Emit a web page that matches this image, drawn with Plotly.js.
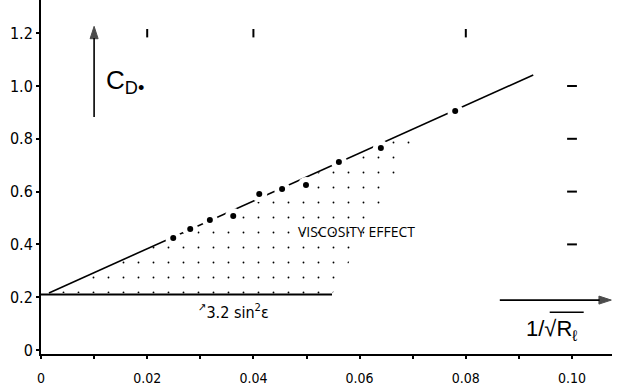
<!DOCTYPE html>
<html>
<head>
<meta charset="utf-8">
<script src="https://cdn.plot.ly/plotly-3.0.1.min.js"></script>
<style>html,body{margin:0;padding:0;background:#fff;}#chart{width:625px;height:390px;}</style>
</head>
<body>
<div id="chart"></div>
<script>
// measured points: 1/sqrt(R_l) vs C_D0
const ptX = [0.0249, 0.0281, 0.0318, 0.0362, 0.0411, 0.0454, 0.0499, 0.0561, 0.0640, 0.0780];
const ptY = [0.424, 0.458, 0.492, 0.508, 0.591, 0.610, 0.625, 0.712, 0.765, 0.905];
// fitted straight line
const fitX = [0.0015, 0.0927];
const fitY = [0.216, 1.042];
// 3.2 sin^2(eps) level
const baseX = [0, 0.0548];
const baseY = [0.21, 0.21];
// stippled "viscosity effect" region
const stipX = [0.0015, 0.0548, 0.0714, 0.0015];
const stipY = [0.216, 0.21, 0.845, 0.216];
// grid reference marks
const topMarkX = [0.02, 0.04, 0.08];
const topMarkY = [1.2, 1.2, 1.2];
const rightMarkX = [0.10, 0.10, 0.10, 0.10];
const rightMarkY = [0.4, 0.6, 0.8, 1.0];
// axis direction arrows
const yArrowX = [0.01, 0.01];
const yArrowY = [0.883, 1.226];
const xArrowX = [0.0864, 0.1074];
const xArrowY = [0.189, 0.189];
// axis ticks
const xTickVals = [0, 0.02, 0.04, 0.06, 0.08, 0.10];
const xTickText = ['0', '0.02', '0.04', '0.06', '0.08', '0.10'];
const xMinorVals = [0.01, 0.03, 0.05, 0.07, 0.09];
const yTickVals = [0, 0.2, 0.4, 0.6, 0.8, 1.0, 1.2];
const yTickText = ['0', '0.2', '0.4', '0.6', '0.8', '1.0', '1.2'];

const FONT = 'Liberation Sans Narrow, DejaVu Sans Condensed, sans-serif';

const traces = [
  { x: stipX, y: stipY, mode: 'lines', fill: 'toself',
    fillcolor: 'rgba(255,255,255,0)', line: { width: 0, color: 'rgba(0,0,0,0)' },
    fillpattern: { shape: '.', size: 15, solidity: 0.012, fgcolor: '#000', bgcolor: 'rgba(255,255,255,0)' },
    hoverinfo: 'skip' },
  { x: fitX, y: fitY, mode: 'lines', line: { color: '#000', width: 1.6 }, hoverinfo: 'skip' },
  { x: baseX, y: baseY, mode: 'lines', line: { color: '#000', width: 2 }, hoverinfo: 'skip' },
  { x: ptX, y: ptY, mode: 'markers', marker: { color: '#fff', size: 16 }, hoverinfo: 'skip' },
  { x: ptX, y: ptY, mode: 'markers', marker: { color: '#000', size: 6 } },
  { x: topMarkX, y: topMarkY, mode: 'markers',
    marker: { symbol: 'line-ns', size: 6, line: { color: '#000', width: 2 } }, hoverinfo: 'skip' },
  { x: rightMarkX, y: rightMarkY, mode: 'markers',
    marker: { symbol: 'line-ew', size: 7, line: { color: '#000', width: 2 } }, hoverinfo: 'skip' },
  { x: yArrowX, y: yArrowY, mode: 'lines+markers', cliponaxis: false,
    line: { color: '#000', width: 1.6 },
    marker: { symbol: 'arrow', angleref: 'previous', size: [0, 13], color: '#000', line: { color: '#000', width: 1 } }, hoverinfo: 'skip' },
  { x: xArrowX, y: xArrowY, mode: 'lines+markers', cliponaxis: false,
    line: { color: '#000', width: 1.6 },
    marker: { symbol: 'arrow', angleref: 'previous', size: [0, 13], color: '#000', line: { color: '#000', width: 1 } }, hoverinfo: 'skip' }
];

const layout = {
  width: 625, height: 390,
  margin: { l: 41, r: 13, t: 0, b: 36 },
  paper_bgcolor: '#fff', plot_bgcolor: '#fff',
  showlegend: false,
  xaxis: {
    range: [0, 0.10753], showgrid: false, zeroline: false,
    showline: true, linecolor: '#000', linewidth: 2,
    tickmode: 'array', tickvals: xTickVals, ticktext: xTickText,
    ticks: 'outside', ticklen: 3, tickwidth: 2, tickcolor: '#000',
    minor: { tickmode: 'array', tickvals: xMinorVals, ticks: 'outside', ticklen: 3, tickwidth: 2, tickcolor: '#000', showgrid: false },
    ticklabelstandoff: 7,
    tickfont: { family: FONT, size: 14, color: '#000' }
  },
  yaxis: {
    range: [-0.0152, 1.3258], showgrid: false, zeroline: false,
    showline: true, linecolor: '#000', linewidth: 2,
    tickmode: 'array', tickvals: yTickVals, ticktext: yTickText,
    ticks: 'outside', ticklen: 3, tickwidth: 2, tickcolor: '#000',
    tickfont: { family: FONT, size: 16, color: '#000' }
  },
  shapes: [
    { type: 'line', xref: 'x', yref: 'y', x0: 0.0958, x1: 0.1022, y0: 0.143, y1: 0.143,
      line: { color: '#000', width: 1.5 } }
  ],
  annotations: [
    { x: 0.0158, y: 1.018, xref: 'x', yref: 'y', showarrow: false,
      text: 'C<sub>D•</sub>', font: { family: 'Liberation Sans, sans-serif', size: 26, color: '#000' } },
    { x: 0.0595, y: 0.447, xref: 'x', yref: 'y', showarrow: false,
      text: 'VISCOSITY EFFECT', font: { family: 'Open Sans, sans-serif', size: 14, color: '#000' } },
    { x: 0.0363, y: 0.146, xref: 'x', yref: 'y', showarrow: false,
      text: '<sup>\u2197</sup>3.2 sin<sup>2</sup>\u03b5', font: { family: FONT, size: 16, color: '#000' } },
    { x: 0.0962, y: 0.076, xref: 'x', yref: 'y', showarrow: false,
      text: '1/\u221aR<sub>\u2113</sub>',
      font: { family: 'Liberation Sans, sans-serif', size: 22, color: '#000' } }
  ]
};

Plotly.newPlot('chart', traces, layout, { staticPlot: true, displayModeBar: false });
</script>
</body>
</html>
